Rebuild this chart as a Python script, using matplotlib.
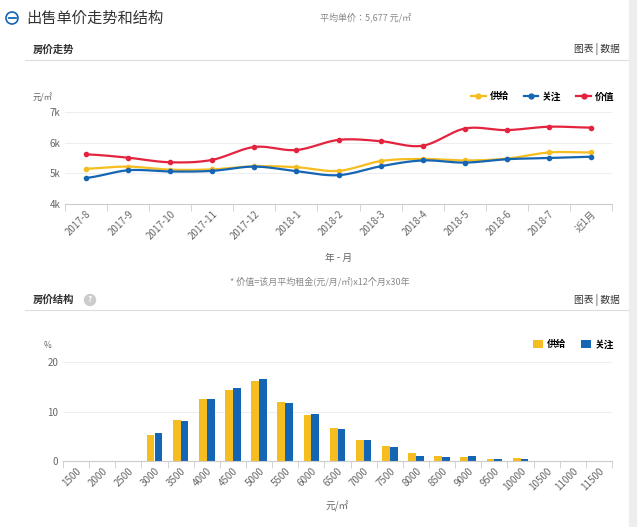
import matplotlib
matplotlib.use("Agg")
import matplotlib.pyplot as plt
from matplotlib import font_manager
import numpy as np
from matplotlib.patches import Circle

names = sorted({f.name for f in font_manager.fontManager.ttflist})
cjk = [n for n in names if "CJK" in n]
pref = [n for n in ["Noto Sans CJK SC", "Noto Sans CJK JP"] if n in cjk] or cjk
plt.rcParams["font.family"] = (pref[:1] if pref else []) + ["DejaVu Sans"]

months = ["2017-8", "2017-9", "2017-10", "2017-11", "2017-12", "2018-1", "2018-2",
          "2018-3", "2018-4", "2018-5", "2018-6", "2018-7", "近1月"]
supply = [5150, 5220, 5120, 5130, 5230, 5200, 5080, 5400, 5470, 5420, 5480, 5680, 5680]
attention = [4850, 5100, 5060, 5080, 5220, 5070, 4940, 5230, 5420, 5350, 5460, 5500, 5540]
value = [5620, 5510, 5360, 5440, 5860, 5760, 6090, 6050, 5900, 6460, 6410, 6520, 6490]

price_bins = ["1500", "2000", "2500", "3000", "3500", "4000", "4500", "5000", "5500", "6000",
              "6500", "7000", "7500", "8000", "8500", "9000", "9500", "10000", "10500",
              "11000", "11500"]
bin_supply = [0, 0, 0, 5.3, 8.3, 12.6, 14.3, 16.1, 11.9, 9.3, 6.6, 4.3, 3.1, 1.6, 1.0, 0.9,
              0.5, 0.7, 0, 0, 0]
bin_attention = [0, 0, 0, 5.7, 8.1, 12.6, 14.7, 16.5, 11.7, 9.4, 6.5, 4.2, 2.9, 1.1, 0.8,
                 1.0, 0.4, 0.5, 0, 0, 0]

YEL, BLU, RED = "#f5bd1f", "#1565b5", "#e4233f"
GRID = "#eeeeee"


def smooth(x, y, n=20):
    x = np.asarray(x, float); y = np.asarray(y, float)
    xs, ys = [], []
    for i in range(len(x) - 1):
        p0 = y[i - 1] if i > 0 else y[i]
        p3 = y[i + 2] if i + 2 < len(y) else y[i + 1]
        p1, p2 = y[i], y[i + 1]
        t = np.linspace(0, 1, n, endpoint=False)
        k = 0.35
        c1 = p1 + (p2 - p0) * k / 2
        c2 = p2 - (p3 - p1) * k / 2
        b = (1 - t) ** 3 * p1 + 3 * (1 - t) ** 2 * t * c1 + 3 * (1 - t) * t ** 2 * c2 + t ** 3 * p2
        xs.append(x[i] + t * (x[i + 1] - x[i])); ys.append(b)
    xs.append([x[-1]]); ys.append([y[-1]])
    return np.concatenate(xs), np.concatenate(ys)


fig = plt.figure(figsize=(6.4, 5.27), dpi=100)
W, H = 640, 527


def fx(px): return px / W
def fy(py): return 1 - py / H


ax0 = fig.add_axes([0, 0, 1, 1]); ax0.set_axis_off(); ax0.set_xlim(0, W); ax0.set_ylim(H, 0)
ax0.add_patch(Circle((12, 18), 6, fill=False, ec="#1565b5", lw=1.2))
ax0.plot([8.5, 15.5], [18, 18], color="#1565b5", lw=1.3)
ax0.text(26, 18, "出售单价走势和结构", fontsize=11, va="center", color="#333333")
ax0.text(320, 17, "平均单价：5,677 元/㎡", fontsize=6.5, va="center", color="#888888")
ax0.text(33, 50, "房价走势", fontsize=7.5, va="center", weight="bold", color="#333333")
ax0.text(620, 49, "图表 | 数据", fontsize=7, va="center", ha="right", color="#333333")
ax0.plot([25, 628], [60, 60], color="#dddddd", lw=0.8)
ax0.text(320, 281, "* 价值=该月平均租金(元/月/㎡)x12个月x30年", fontsize=6.5, ha="center",
         va="center", color="#888888")
ax0.text(33, 300, "房价结构", fontsize=7.5, va="center", weight="bold", color="#333333")
ax0.add_patch(Circle((90, 300), 5.5, color="#cccccc"))
ax0.text(90, 300, "?", fontsize=6, ha="center", va="center", color="white", weight="bold")
ax0.text(620, 300, "图表 | 数据", fontsize=7, va="center", ha="right", color="#333333")
ax0.plot([25, 628], [310, 310], color="#dddddd", lw=0.8)
ax0.plot([633, 633], [0, H], color="#eeeeee", lw=6)

ax1 = fig.add_axes([fx(65), fy(204), fx(612 - 65), fy(112) - fy(204)])
x = np.arange(len(months))
for data, c, lab in [(supply, YEL, "供给"), (attention, BLU, "关注"), (value, RED, "价值")]:
    sx, sy = smooth(x, data)
    ax1.plot(sx, sy, color=c, lw=1.6)
    ax1.plot(x, data, "o", color=c, ms=3)
    ax1.plot([], [], "-o", color=c, ms=3.5, lw=1.6, label=lab)
ax1.set_xlim(-0.5, len(months) - 0.5)
ax1.set_ylim(4000, 7000)
ax1.set_yticks([4000, 5000, 6000, 7000])
ax1.set_yticklabels(["4k", "5k", "6k", "7k"])
ax1.set_xticks(x)
ax1.set_xticklabels(months, rotation=45, ha="right", rotation_mode="anchor")
ax1.get_xticklabels()[-1].set_color("#aaaaaa")
ax1.grid(axis="y", color=GRID, lw=0.8)
for s in ["top", "right", "left"]:
    ax1.spines[s].set_visible(False)
ax1.spines["bottom"].set_color("#cccccc")
ax1.tick_params(axis="y", length=0, labelsize=7, colors="#666666")
ax1.tick_params(axis="x", labelsize=7, colors="#666666")
ax1.set_xticks(np.arange(-0.5, len(months)), minor=True)
ax1.tick_params(axis="x", which="major", length=0)
ax1.tick_params(axis="x", which="minor", length=5, color="#cccccc")
ax1.text(-0.06, 1.12, "元/㎡", transform=ax1.transAxes, fontsize=6, color="#666666")
ax1.set_xlabel("年 - 月", fontsize=7, color="#666666", labelpad=8)
leg = ax1.legend(loc="lower right", bbox_to_anchor=(1.02, 1.02), ncol=3, frameon=False,
                 fontsize=7, handlelength=1.5, columnspacing=1.5, handletextpad=0.4)
for t in leg.get_texts():
    t.set_weight("bold")

ax2 = fig.add_axes([fx(63), fy(461), fx(612 - 63), fy(362) - fy(461)])
xb = np.arange(len(price_bins))
bw = 0.3
ax2.bar(xb - bw / 2, bin_supply, bw, color=YEL, label="供给")
ax2.bar(xb + bw / 2, bin_attention, bw, color=BLU, label="关注")
ax2.set_xlim(-0.5, len(price_bins) - 0.5)
ax2.set_ylim(0, 20)
ax2.set_yticks([0, 10, 20])
ax2.set_xticks(xb)
ax2.set_xticklabels(price_bins, rotation=45, ha="right", rotation_mode="anchor")
ax2.set_xticks(np.arange(-0.5, len(price_bins)), minor=True)
ax2.grid(axis="y", color=GRID, lw=0.8)
ax2.set_axisbelow(True)
for s in ["top", "right", "left"]:
    ax2.spines[s].set_visible(False)
ax2.spines["bottom"].set_color("#cccccc")
ax2.tick_params(axis="y", length=0, labelsize=7, colors="#666666")
ax2.tick_params(axis="x", which="major", length=0, labelsize=7, colors="#666666")
ax2.tick_params(axis="x", which="minor", length=5, color="#cccccc")
ax2.text(-0.035, 1.14, "%", transform=ax2.transAxes, fontsize=6, color="#666666")
ax2.set_xlabel("元/㎡", fontsize=7, color="#666666", labelpad=6)
leg2 = ax2.legend(loc="lower right", bbox_to_anchor=(1.02, 1.04), ncol=2, frameon=False,
                  fontsize=7, handlelength=1.0, handleheight=1.0, columnspacing=1.5,
                  handletextpad=0.4)
for t in leg2.get_texts():
    t.set_weight("bold")

fig.savefig("out.png", dpi=100, facecolor="white")
